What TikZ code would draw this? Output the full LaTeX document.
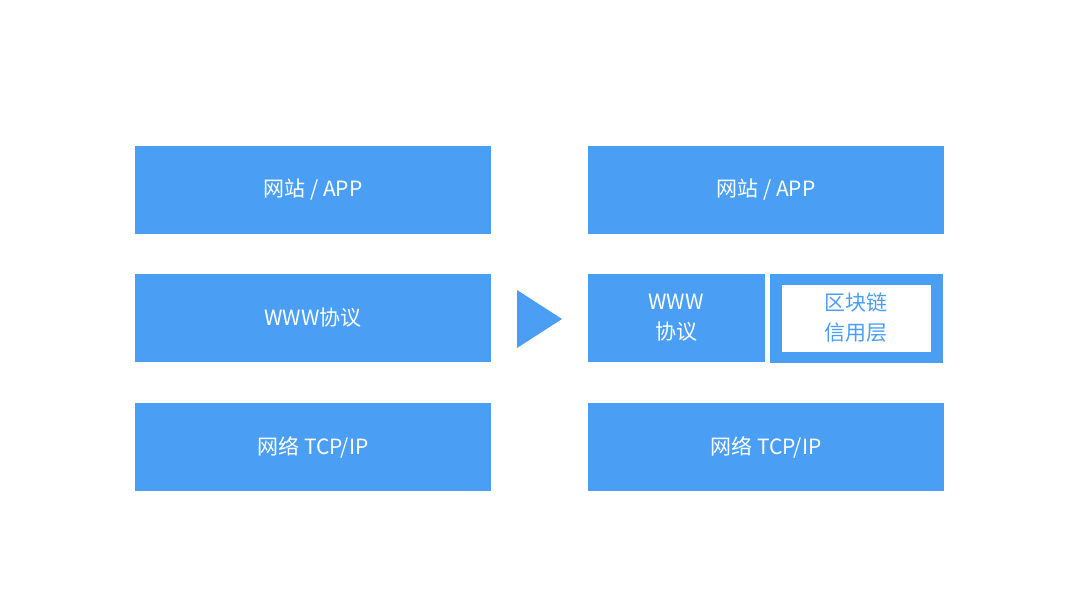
\documentclass[tikz,border=0pt]{standalone}
\usepackage{fontspec}
\setmainfont{Noto Sans CJK SC}
\definecolor{bl}{HTML}{4A9FF5}
\begin{document}
\begin{tikzpicture}[x=1pt,y=-1pt,
  box/.style={fill=bl,draw=none},
  lbl/.style={text=white,font=\fontsize{21}{26}\selectfont,align=center}]
\useasboundingbox (0,0) rectangle (1080,608);
\fill[box] (135,146) rectangle (491,234);
\node[lbl] (l1) at (313,190) {网站 / APP};
\fill[box] (135,274) rectangle (491,362);
\node[lbl] (l2) at (313,318) {WWW协议};
\fill[box] (135,403) rectangle (491,491);
\node[lbl] (l3) at (313,447) {网络 TCP/IP};
\fill[bl] (517,290) -- (517,348) -- (562,319) -- cycle;
\fill[box] (588,146) rectangle (944,234);
\node[lbl] (r1) at (766,190) {网站 / APP};
\fill[box] (588,274) rectangle (765,362);
\node[lbl,font=\fontsize{21}{30}\selectfont] (r2) at (676,318) {WWW\\协议};
\fill[box] (770,274) rectangle (943,363);
\fill[white] (782,285) rectangle (931,352);
\node[lbl,text=bl,font=\fontsize{21}{30}\selectfont] (r3) at (856,318) {区块链\\信用层};
\fill[box] (588,403) rectangle (944,491);
\node[lbl] (r4) at (766,447) {网络 TCP/IP};
\end{tikzpicture}
\end{document}
